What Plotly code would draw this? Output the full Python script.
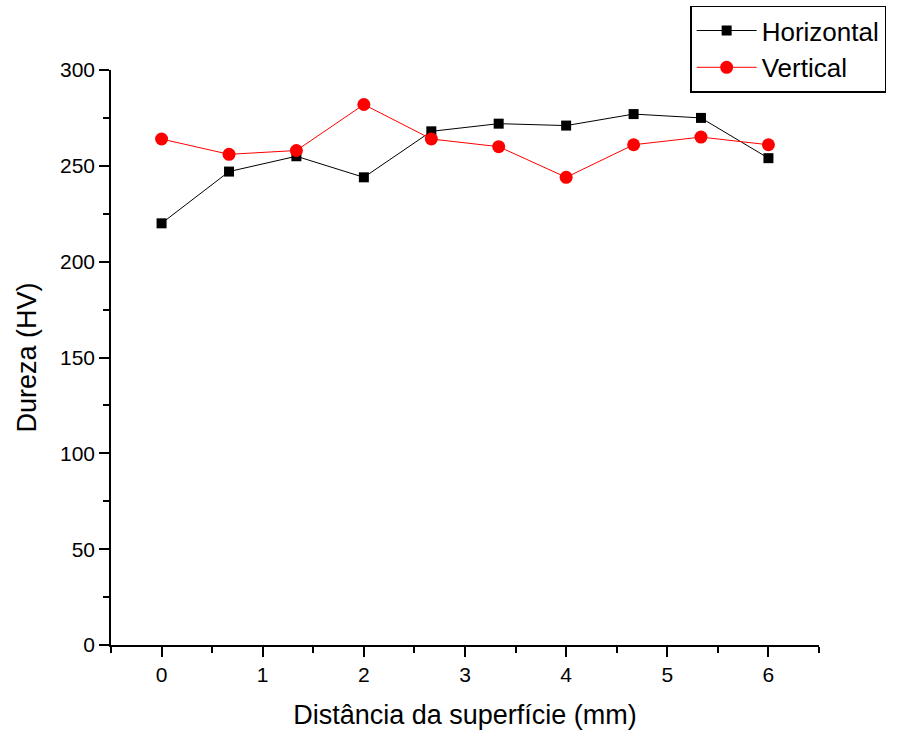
import plotly.graph_objects as go

x_mm = [0, 0.667, 1.333, 2, 2.667, 3.333, 4, 4.667, 5.333, 6]
horizontal = [220, 247, 255, 244, 268, 272, 271, 277, 275, 254]
vertical = [264, 256, 258, 282, 264, 260, 244, 261, 265, 261]

fig = go.Figure()
fig.add_trace(go.Scatter(x=x_mm, y=horizontal, mode="lines+markers", name="Horizontal",
                         line=dict(color="black", width=1),
                         marker=dict(symbol="square", size=10, color="black")))
fig.add_trace(go.Scatter(x=x_mm, y=vertical, mode="lines+markers", name="Vertical",
                         line=dict(color="red", width=1),
                         marker=dict(symbol="circle", size=13, color="red")))

font = "Liberation Sans, Arial, sans-serif"
fig.update_layout(
    width=899, height=735,
    margin=dict(l=111, r=80, t=70, b=90, autoexpand=False),
    plot_bgcolor="white", paper_bgcolor="white",
    font=dict(family=font, color="black"),
    showlegend=True,
    legend=dict(x=0.818, y=1.112, xanchor="left", yanchor="top",
                bordercolor="black", borderwidth=1.5, bgcolor="white",
                font=dict(size=26, family=font), itemwidth=60,
                tracegroupgap=0),
    xaxis=dict(range=[-0.5, 6.5], tickvals=[0, 1, 2, 3, 4, 5, 6],
               showgrid=False, zeroline=False, showline=True, linecolor="black", linewidth=1.5,
               ticks="outside", ticklen=10, tickwidth=1.5, tickcolor="black",
               tickfont=dict(size=21),
               minor=dict(dtick=0.5, tick0=0, ticks="outside", ticklen=6, tickwidth=1.5, tickcolor="black"),
               title=dict(text="Distância da superfície (mm)", font=dict(size=27), standoff=20)),
    yaxis=dict(range=[0, 300], tickvals=[0, 50, 100, 150, 200, 250, 300],
               showgrid=False, zeroline=False, showline=True, linecolor="black", linewidth=1.5,
               ticks="outside", ticklen=10, tickwidth=1.5, tickcolor="black",
               tickfont=dict(size=21),
               minor=dict(dtick=25, tick0=0, ticks="outside", ticklen=6, tickwidth=1.5, tickcolor="black"),
               title=dict(text="Dureza (HV)", font=dict(size=27), standoff=16)),
)

fig.write_html("out.html")
